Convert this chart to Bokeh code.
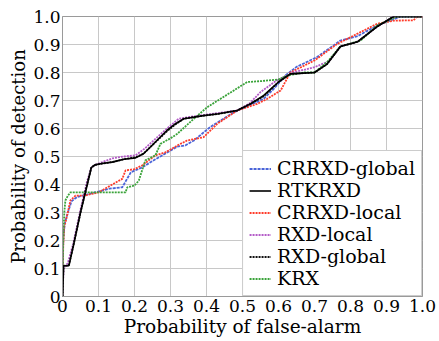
from bokeh.plotting import figure
from bokeh.models import FixedTicker, Legend, LegendItem
from bokeh.embed import file_html
from bokeh.resources import INLINE

# ---- data ----
tick_values = [0, 0.1, 0.2, 0.3, 0.4, 0.5, 0.6, 0.7, 0.8, 0.9, 1.0]
tick_labels = ["0", "0.1", "0.2", "0.3", "0.4", "0.5", "0.6", "0.7", "0.8", "0.9", "1.0"]

crrxd_global_x = [0, 0.002, 0.006, 0.015, 0.025, 0.04, 0.07, 0.1, 0.13, 0.166, 0.19, 0.22, 0.258,
                  0.318, 0.342, 0.365, 0.41, 0.476, 0.559, 0.587, 0.62, 0.65, 0.707, 0.772, 0.82,
                  0.874, 0.94, 1.0]
crrxd_global_y = [0, 0.2, 0.26, 0.3, 0.34, 0.355, 0.365, 0.375, 0.385, 0.39, 0.444, 0.46, 0.49,
                  0.535, 0.54, 0.557, 0.605, 0.658, 0.706, 0.742, 0.79, 0.82, 0.855, 0.914, 0.93,
                  0.968, 1.0, 1.0]

rtkrxd_x = [0, 0.003, 0.018, 0.03, 0.05, 0.069, 0.08, 0.09, 0.11, 0.138, 0.17, 0.203, 0.225, 0.249,
            0.29, 0.314, 0.337, 0.392, 0.43, 0.485, 0.522, 0.559, 0.6, 0.633, 0.7, 0.735, 0.772,
            0.82, 0.874, 0.92, 1.0]
rtkrxd_y = [0, 0.11, 0.11, 0.18, 0.30, 0.40, 0.46, 0.47, 0.475, 0.48, 0.49, 0.495, 0.51, 0.54,
            0.593, 0.617, 0.635, 0.646, 0.652, 0.664, 0.688, 0.718, 0.766, 0.795, 0.80, 0.83, 0.893,
            0.91, 0.964, 1.0, 1.0]

crrxd_local_x = [0, 0.002, 0.005, 0.013, 0.022, 0.036, 0.06, 0.1, 0.133, 0.166, 0.175, 0.2, 0.221,
                 0.258, 0.286, 0.32, 0.346, 0.392, 0.43, 0.485, 0.541, 0.569, 0.606, 0.633, 0.7,
                 0.763, 0.8, 0.874, 0.92, 0.948, 0.975, 0.985, 1.0]
crrxd_local_y = [0, 0.18, 0.25, 0.29, 0.343, 0.36, 0.36, 0.372, 0.396, 0.42, 0.45, 0.455, 0.468,
                 0.504, 0.515, 0.54, 0.557, 0.569, 0.617, 0.664, 0.688, 0.706, 0.736, 0.80, 0.843,
                 0.902, 0.926, 0.974, 0.985, 0.986, 0.986, 1.0, 1.0]

rxd_local_x = [0, 0.003, 0.015, 0.03, 0.05, 0.068, 0.08, 0.09, 0.138, 0.17, 0.203, 0.23, 0.258,
               0.29, 0.323, 0.346, 0.38, 0.43, 0.485, 0.52, 0.55, 0.594, 0.64, 0.7, 0.74, 0.772,
               0.82, 0.874, 0.92, 1.0]
rxd_local_y = [0, 0.10, 0.12, 0.19, 0.31, 0.41, 0.46, 0.47, 0.493, 0.50, 0.504, 0.53, 0.563, 0.60,
               0.635, 0.64, 0.646, 0.655, 0.664, 0.69, 0.73, 0.771, 0.80, 0.819, 0.84, 0.893, 0.91,
               0.964, 1.0, 1.0]

rxd_global_x = [0, 0.003, 0.017, 0.03, 0.05, 0.068, 0.08, 0.09, 0.11, 0.138, 0.17, 0.203, 0.225,
                0.249, 0.29, 0.314, 0.337, 0.392, 0.43, 0.485, 0.522, 0.559, 0.6, 0.633, 0.7, 0.735,
                0.772, 0.82, 0.874, 0.92, 1.0]
rxd_global_y = [0, 0.11, 0.11, 0.18, 0.30, 0.40, 0.46, 0.47, 0.475, 0.48, 0.49, 0.497, 0.51, 0.54,
                0.59, 0.615, 0.635, 0.646, 0.652, 0.664, 0.688, 0.715, 0.766, 0.795, 0.80, 0.83,
                0.893, 0.91, 0.964, 1.0, 1.0]

krx_x = [0, 0.002, 0.005, 0.008, 0.015, 0.022, 0.1, 0.175, 0.18, 0.2, 0.212, 0.23, 0.258, 0.272,
         0.3, 0.318, 0.365, 0.402, 0.439, 0.476, 0.513, 0.55, 0.6, 0.624, 0.67, 0.7, 0.735, 0.772,
         0.828, 0.874, 0.93, 0.97, 1.0]
krx_y = [0, 0.2, 0.3, 0.343, 0.36, 0.372, 0.372, 0.372, 0.39, 0.396, 0.414, 0.486, 0.504, 0.545,
         0.565, 0.58, 0.635, 0.676, 0.706, 0.736, 0.766, 0.769, 0.775, 0.789, 0.80, 0.80, 0.837,
         0.893, 0.914, 0.968, 1.0, 1.0, 1.0]

FONT = "DejaVu Serif"

p = figure(width=439, height=341, x_range=(0, 1), y_range=(0, 1),
           output_backend="svg", toolbar_location=None,
           min_border_left=62, min_border_right=17, min_border_top=16, min_border_bottom=45,
           x_axis_label="Probability of false-alarm", y_axis_label="Probability of detection")

p.outline_line_color = "#9a9a9a"
p.outline_line_width = 1
p.grid.grid_line_color = "#c8c8c8"
p.grid.grid_line_width = 1

for ax in (p.xaxis[0], p.yaxis[0]):
    ax.ticker = FixedTicker(ticks=tick_values)
    ax.major_label_overrides = {v: l for v, l in zip(tick_values, tick_labels)}
    ax.axis_line_color = "#9a9a9a"
    ax.major_tick_in = 0
    ax.major_tick_out = 0
    ax.minor_tick_line_color = None
    ax.major_label_text_font = FONT
    ax.major_label_text_font_size = "17px"
    ax.major_label_text_color = "black"
    ax.axis_label_text_font = FONT
    ax.axis_label_text_font_style = "normal"
    ax.axis_label_text_color = "black"
    ax.axis_label_standoff = 1

p.xaxis[0].axis_label_text_font_size = "18.5px"
p.yaxis[0].axis_label_text_font_size = "18px"
p.xaxis[0].major_label_standoff = 3
p.yaxis[0].major_label_standoff = 2

r_blue = p.line(crrxd_global_x, crrxd_global_y, line_color="#4a64d8", line_width=1.8, line_dash="3 1")
r_red = p.line(crrxd_local_x, crrxd_local_y, line_color="#ff3b2a", line_width=1.8, line_dash="2 1")
r_purple = p.line(rxd_local_x, rxd_local_y, line_color="#b45cc8", line_width=1.8, line_dash="2 1")
r_green = p.line(krx_x, krx_y, line_color="#3aa33a", line_width=1.8, line_dash="2 1")
r_black2 = p.line(rxd_global_x, rxd_global_y, line_color="#111111", line_width=1.8, line_dash="2 1")
r_black = p.line(rtkrxd_x, rtkrxd_y, line_color="black", line_width=1.6)

legend = Legend(items=[
    LegendItem(label="CRRXD-global", renderers=[r_blue]),
    LegendItem(label="RTKRXD", renderers=[r_black]),
    LegendItem(label="CRRXD-local", renderers=[r_red]),
    LegendItem(label="RXD-local", renderers=[r_purple]),
    LegendItem(label="RXD-global", renderers=[r_black2]),
    LegendItem(label="KRX", renderers=[r_green]),
], location="bottom_right")
legend.margin = 0
legend.padding = 6
legend.spacing = 0
legend.label_height = 21
legend.glyph_height = 21
legend.glyph_width = 22
legend.label_standoff = 6
legend.label_text_font = FONT
legend.label_text_font_size = "19px"
legend.label_text_color = "black"
legend.border_line_color = "#9a9a9a"
legend.background_fill_alpha = 1
p.add_layout(legend)

open("out.html", "w").write(file_html(p, INLINE))
